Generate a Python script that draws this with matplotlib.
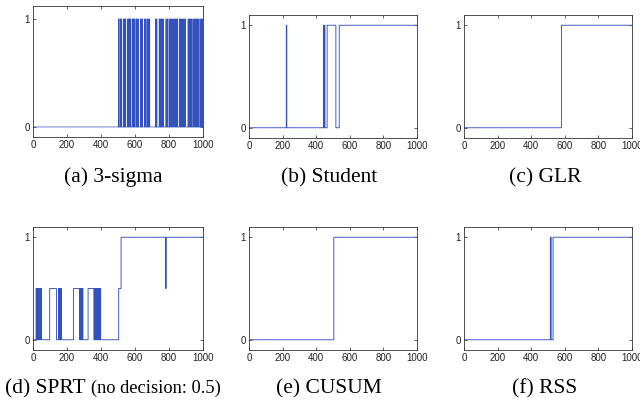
import numpy as np
import matplotlib.pyplot as plt

n = 1000
t = np.arange(n)

# 3-sigma: time indices where an alarm was raised
sigma_alarms = [502, 505, 513, 518, 521, 531, 534, 537, 541, 545, 556, 560,
                563, 567, 570, 574, 583, 587, 590, 594, 598, 606, 611, 615,
                619, 632, 636, 640, 644, 655, 660, 664, 672, 676, 680,
                686, 720, 724, 728, 742, 746, 750, 755, 759, 766, 782,
                786, 790, 800, 804, 810, 815, 820, 828, 833, 838, 842,
                846, 850, 860, 865, 870, 876, 880, 884, 890, 896, 912,
                916, 920, 925, 930, 935, 944, 948, 953, 958, 962, 966, 972,
                976, 985, 990, 994, 998]

# other detectors: (start index, decision value) of each piece
student_steps = [(0, 0), (222, 1), (225, 0), (443, 1), (446, 0), (449, 1),
                 (452, 0), (465, 1), (517, 0), (537, 1)]
glr_steps = [(0, 0), (580, 1)]
sprt_steps = [(0, 0), (18, 0.5), (22, 0), (25, 0.5), (29, 0), (32, 0.5), (36, 0),
              (40, 0.5), (44, 0), (46, 0.5), (50, 0), (98, 0.5), (138, 0),
              (150, 0.5), (153, 0), (156, 0.5), (160, 0), (164, 0.5), (168, 0),
              (238, 0.5), (274, 0), (278, 0.5), (282, 0), (285, 0.5), (289, 0),
              (291, 0.5), (294, 0), (324, 0.5), (358, 0), (362, 0.5), (366, 0),
              (370, 0.5), (374, 0), (378, 0.5), (382, 0), (386, 0.5), (390, 0),
              (394, 0.5), (398, 0), (504, 0.5), (518, 1), (780, 0.5), (784, 1)]
cusum_steps = [(0, 0), (505, 1)]
rss_steps = [(0, 0), (514, 1), (519, 0), (530, 1)]

captions = ['(a) 3-sigma', '(b) Student', '(c) GLR', '', '(e) CUSUM', '(f) RSS']


def from_steps(steps):
    y = np.zeros(n)
    for s, v in steps:
        y[s:] = v
    return y


sig = np.zeros(n)
sig[sigma_alarms] = 1
series = [sig, from_steps(student_steps), from_steps(glr_steps),
          from_steps(sprt_steps), from_steps(cusum_steps), from_steps(rss_steps)]

W, H = 640, 401
fig = plt.figure(figsize=(6.4, 4.01), dpi=100)

# axes boxes in pixels: left, right, top, bottom
boxes = [(33, 203, 6, 137), (249, 417, 15, 138), (464, 632, 15, 138),
         (33, 203, 227, 350), (249, 417, 227, 350), (464, 632, 227, 350)]
ylims = [(-0.093, 1.12), (-0.1, 1.1), (-0.1, 1.1),
         (-0.1, 1.1), (-0.1, 1.1), (-0.1, 1.1)]

for i, (l, r, tp, b) in enumerate(boxes):
    ax = fig.add_axes([l / W, 1 - b / H, (r - l) / W, (b - tp) / H])
    ax.plot(t, series[i], drawstyle='steps-post', color='#3352bd',
            lw=0.5 if i == 0 else 0.65)
    ax.set_xlim(0, 1000)
    ax.set_ylim(*ylims[i])
    ax.set_xticks([0, 200, 400, 600, 800, 1000])
    ax.set_yticks([0, 1])
    ax.tick_params(direction='in', top=True, right=True, length=2.5,
                   width=0.5, labelsize=7, pad=2.5, colors='#222222')
    for lab in ax.get_xticklabels() + ax.get_yticklabels():
        lab.set_family('Liberation Sans')
    for sp in ax.spines.values():
        sp.set_linewidth(0.6)
        sp.set_color('#333333')

cap_font = dict(family='Liberation Serif', fontsize=15.5, va='baseline')
cap_x = [113, 329, 545, 112, 329, 545]
cap_y = [182, 182, 182, 393, 393, 393]
for i in range(6):
    if captions[i]:
        fig.text(cap_x[i] / W, 1 - cap_y[i] / H, captions[i], ha='center', **cap_font)

fig.text(5 / W, 1 - 393 / H, '(d) SPRT', ha='left', **cap_font)
fig.text(221 / W, 1 - 393 / H, '(no decision: 0.5)', ha='right',
         family='Liberation Serif', fontsize=13.2, va='baseline')

fig.savefig('out.png', dpi=100)
